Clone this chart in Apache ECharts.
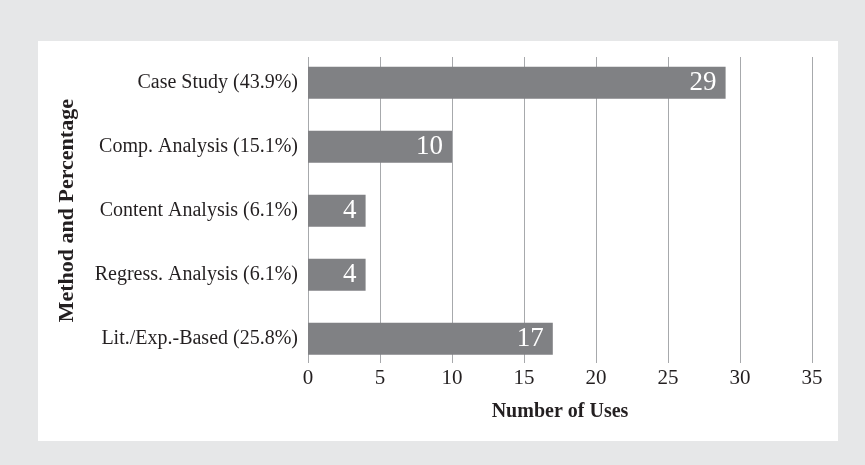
<!DOCTYPE html>
<html>
<head>
<meta charset="utf-8">
<script src="https://cdn.jsdelivr.net/npm/echarts@6/dist/echarts.min.js"></script>
<style>
html,body{margin:0;padding:0;background:#e6e7e8;}
#c{width:865px;height:465px;}
</style>
</head>
<body>
<div id="c"></div>
<script>
var categories = ["Case Study (43.9%)", "Comp. Analysis (15.1%)", "Content Analysis (6.1%)", "Regress. Analysis (6.1%)", "Lit./Exp.-Based (25.8%)"];
var values = [29, 10, 4, 4, 17];
var xTicks = [0, 5, 10, 15, 20, 25, 30, 35];

var FONT = '"Liberation Serif", "DejaVu Serif", serif';
var chart = echarts.init(document.getElementById('c'), null, {renderer: 'canvas'});
chart.setOption({
  backgroundColor: '#e6e7e8',
  animation: false,
  textStyle: {fontFamily: FONT},
  graphic: [{
    type: 'rect', z: -10, silent: true,
    shape: {x: 38, y: 41, width: 800, height: 400},
    style: {fill: '#ffffff'}
  }],
  grid: [
    {left: 308, right: 53, top: 50.7, height: 320},
    {left: 308, right: 53, top: 57, height: 306}
  ],
  xAxis: [
    {gridIndex: 0, type: 'value', min: 0, max: 35, interval: 5, show: false},
    {gridIndex: 1, type: 'value', min: 0, max: 35, interval: 5,
     axisLine: {show: false}, axisTick: {show: false},
     splitLine: {show: true, lineStyle: {color: '#a7a9ac', width: 1}},
     axisLabel: {margin: 5, fontSize: 21, color: '#231f20', fontFamily: FONT,
       formatter: function (v) { return xTicks.indexOf(v) >= 0 ? String(v) : ''; }},
     name: 'Number of Uses', nameLocation: 'middle', nameGap: 39,
     nameTextStyle: {fontSize: 20, fontWeight: 'bold', color: '#231f20', fontFamily: FONT}
    }
  ],
  yAxis: [
    {gridIndex: 0, type: 'category', data: categories, inverse: true,
     axisLine: {show: false}, axisTick: {show: false}, splitLine: {show: false},
     axisLabel: {margin: 10, fontSize: 20, color: '#231f20', fontFamily: FONT},
     name: 'Method and Percentage', nameLocation: 'middle', nameGap: 230,
     nameTextStyle: {fontSize: 22, fontWeight: 'bold', color: '#231f20', fontFamily: FONT}
    },
    {gridIndex: 1, type: 'category', data: categories, show: false}
  ],
  series: [{
    type: 'bar', xAxisIndex: 0, yAxisIndex: 0,
    data: values, barWidth: 32,
    itemStyle: {color: '#808184'},
    label: {show: true, position: 'insideRight', distance: 9, color: '#ffffff',
      fontSize: 27, fontFamily: FONT}
  }]
});
</script>
</body>
</html>
